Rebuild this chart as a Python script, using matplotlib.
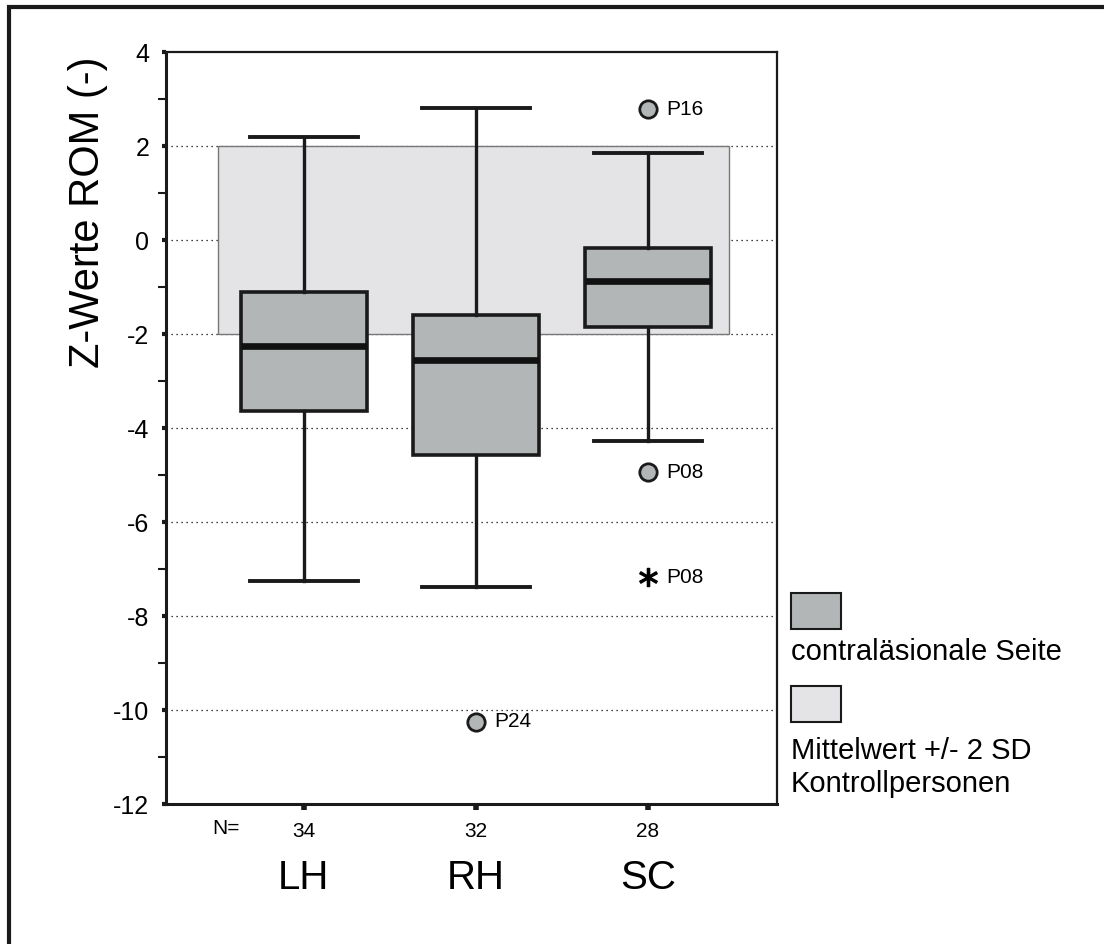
import matplotlib
matplotlib.use("Agg")
import matplotlib.pyplot as plt
from matplotlib.patches import Rectangle
from matplotlib.lines import Line2D
from matplotlib.transforms import blended_transform_factory

plt.rcParams['font.family'] = ['Liberation Sans', 'DejaVu Sans']
plt.rcParams['axes.unicode_minus'] = False

# data
groups = ['LH', 'RH', 'SC']
n_vals = [34, 32, 28]
whis_lo = [-7.25, -7.38, -4.27]
q1 = [-3.63, -4.58, -1.85]
medians = [-2.26, -2.55, -0.88]
q3 = [-1.10, -1.60, -0.17]
whis_hi = [2.20, 2.80, 1.85]

out_group = [2, 3, 3]
out_vals = [-10.25, 2.78, -4.94]
out_labels = ['P24', 'P16', 'P08']

ext_group = [3]
ext_vals = [-7.18]
ext_labels = ['P08']

ctrl_lo, ctrl_hi = -2, 2

box_col = '#b2b6b7'
band_col = '#e4e4e6'
dark = '#1a1a1a'

fig = plt.figure(figsize=(11.04, 9.44), dpi=100)
ax = fig.add_axes([0.1504, 0.1483, 0.5534, 0.7966])

positions = [1, 2, 3]
stats = []
for i, g in enumerate(groups):
    stats.append({'label': g, 'whislo': whis_lo[i], 'q1': q1[i], 'med': medians[i],
                  'q3': q3[i], 'whishi': whis_hi[i], 'fliers': []})

ax.bxp(stats, positions=positions, widths=0.73, capwidths=0.63, patch_artist=True,
       showfliers=False,
       boxprops=dict(facecolor=box_col, edgecolor=dark, linewidth=2.6),
       medianprops=dict(color='#111111', linewidth=4.8, solid_capstyle='butt'),
       whiskerprops=dict(color=dark, linewidth=2.4),
       capprops=dict(color=dark, linewidth=2.8),
       zorder=3)

# control band (mean +/- 2 SD)
ax.add_patch(Rectangle((0.5, ctrl_lo), 2.97, ctrl_hi - ctrl_lo, facecolor=band_col,
                       edgecolor='#777777', linewidth=1, zorder=1))

# dotted gridlines
for yv in range(-10, 4, 2):
    ax.axhline(yv, color='black', linestyle=(0, (1, 3)), linewidth=0.9, zorder=0)

# outliers
for g, v, lab in zip(out_group, out_vals, out_labels):
    ax.plot(g, v, 'o', ms=12.5, mfc=box_col, mec=dark, mew=2, zorder=4)
    ax.annotate(lab, (g, v), xytext=(13, 0), textcoords='offset points',
                va='center', ha='left', fontsize=15)
for g, v, lab in zip(ext_group, ext_vals, ext_labels):
    ax.plot(g, v, marker='$*$', ms=13, color='black', zorder=4)
    ax.annotate(lab, (g, v), xytext=(13, 0), textcoords='offset points',
                va='center', ha='left', fontsize=15)

ax.set_xlim(0.2, 3.75)
ax.set_ylim(-12, 4)
ax.set_yticks(range(-12, 5, 2))
ax.set_yticks(range(-11, 4, 2), minor=True)
ax.tick_params(axis='y', which='major', length=3, width=3, labelsize=18, pad=9, color=dark)
ax.tick_params(axis='y', which='minor', length=6, width=1.5, color=dark)
ax.set_xticks(positions)
ax.set_xticklabels([str(v) for v in n_vals])
ax.tick_params(axis='x', which='major', length=4, width=4, labelsize=15, pad=9, color=dark)

for side in ['left', 'bottom']:
    ax.spines[side].set_linewidth(2.2)
    ax.spines[side].set_color(dark)
for side in ['top', 'right']:
    ax.spines[side].set_linewidth(1.6)
    ax.spines[side].set_color(dark)

ax.set_ylabel('Z-Werte ROM (-)', fontsize=30, va='center')
ax.yaxis.set_label_coords(-0.128, 0.787)

trans = blended_transform_factory(ax.transData, ax.transAxes)
ax.text(0.55, -0.033, 'N=', transform=trans, ha='center', va='center', fontsize=15)
for p, g in zip(positions, groups):
    ax.text(p, -0.098, g, transform=trans, ha='center', va='center', fontsize=29)

# legend
fig.add_artist(Rectangle((0.7165, 0.3337), 0.0453, 0.0381, transform=fig.transFigure,
                         facecolor=box_col, edgecolor=dark, linewidth=1.5))
fig.text(0.7165, 0.3008, 'contraläsionale Seite', fontsize=21, va='baseline')
fig.add_artist(Rectangle((0.7165, 0.2352), 0.0453, 0.0381, transform=fig.transFigure,
                         facecolor=band_col, edgecolor=dark, linewidth=1.5))
fig.text(0.7165, 0.196, 'Mittelwert +/- 2 SD', fontsize=21, va='baseline')
fig.text(0.7165, 0.161, 'Kontrollpersonen', fontsize=21, va='baseline')

# outer frame (left and top)
fig.add_artist(Line2D([9 / 1104, 9 / 1104, 1.0], [0.0, 1 - 7 / 944, 1 - 7 / 944],
                      transform=fig.transFigure, color=dark, linewidth=3,
                      solid_joinstyle='miter'))

fig.savefig('out.png', dpi=100)
